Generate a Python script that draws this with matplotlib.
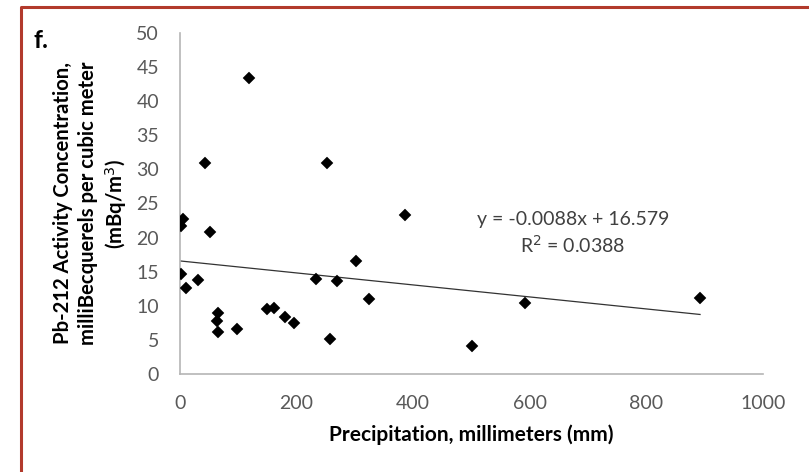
import numpy as np
import matplotlib.pyplot as plt
from matplotlib.lines import Line2D

plt.rcParams['font.family'] = ['Lato', 'DejaVu Sans']

# precipitation (mm) and Pb-212 activity (mBq/m3)
precip = [4.6, 1.2, 51, 1.2, 31, 10, 66, 64, 66, 98, 149, 161, 180, 196,
          234, 269, 257, 302, 324, 386, 118, 43, 253, 591, 500, 892]
pb212 = [22.7, 21.7, 20.8, 14.7, 13.8, 12.6, 8.9, 7.8, 6.2, 6.6, 9.5, 9.7, 8.3, 7.5,
         13.9, 13.6, 5.1, 16.5, 11.0, 23.3, 43.4, 31.0, 31.0, 10.4, 4.1, 11.1]

# trend line from the printed equation
slope = -0.0088
intercept = 16.579
r2 = 0.0388

x_ticks = [0, 200, 400, 600, 800, 1000]
y_ticks = [0, 5, 10, 15, 20, 25, 30, 35, 40, 45, 50]

W, H = 809, 472
fig = plt.figure(figsize=(W / 100, H / 100), dpi=100)
ax = fig.add_axes([180 / W, (H - 374) / H, (763 - 180) / W, (374 - 33) / H])

ax.plot(precip, pb212, linestyle='none', marker='D', ms=6.5, color='black',
        markeredgewidth=0.3, zorder=3)

xs = np.array([min(precip), max(precip)])
ax.plot(xs, slope * xs + intercept, color='#333333', lw=0.9, zorder=2)

ax.set_xlim(0, 1000)
ax.set_ylim(0, 50)
ax.set_xticks(x_ticks)
ax.set_yticks(y_ticks)
ax.tick_params(length=0, labelsize=14, colors='#595959')
ax.tick_params(axis='x', pad=15)
ax.tick_params(axis='y', pad=15)
for s in ['top', 'right']:
    ax.spines[s].set_visible(False)
for s in ['left', 'bottom']:
    ax.spines[s].set_color('#b5b5b5')
    ax.spines[s].set_linewidth(1.2)

ax.set_xlabel('Precipitation, millimeters (mm)', fontsize=15, fontweight='bold',
              labelpad=9)
ax.set_ylabel('Pb-212 Activity Concentration,\nmilliBecquerels per cubic meter\n(mBq/m$^3$)',
              fontsize=14.6, fontweight='bold', linespacing=1.3, labelpad=5)

fig.text(573 / W, 1 - 220 / H, 'y = {:.4f}x + {:.3f}'.format(slope, intercept),
         ha='center', va='center', fontsize=14, color='#404040')
fig.text(573 / W, 1 - 245 / H, 'R$^2$ = {}'.format(r2),
         ha='center', va='center', fontsize=14, color='#404040')

fig.text(41 / W, 1 - 40 / H, 'f.', ha='center', va='center', fontsize=18,
         fontweight='bold')

# red frame (left and top edges visible)
fig.add_artist(Line2D([21 / W, 21 / W, 1.0], [0.0, 1 - 7 / H, 1 - 7 / H],
                      color='#b23a2c', lw=2.2, transform=fig.transFigure))

fig.savefig('out.png', dpi=100)
